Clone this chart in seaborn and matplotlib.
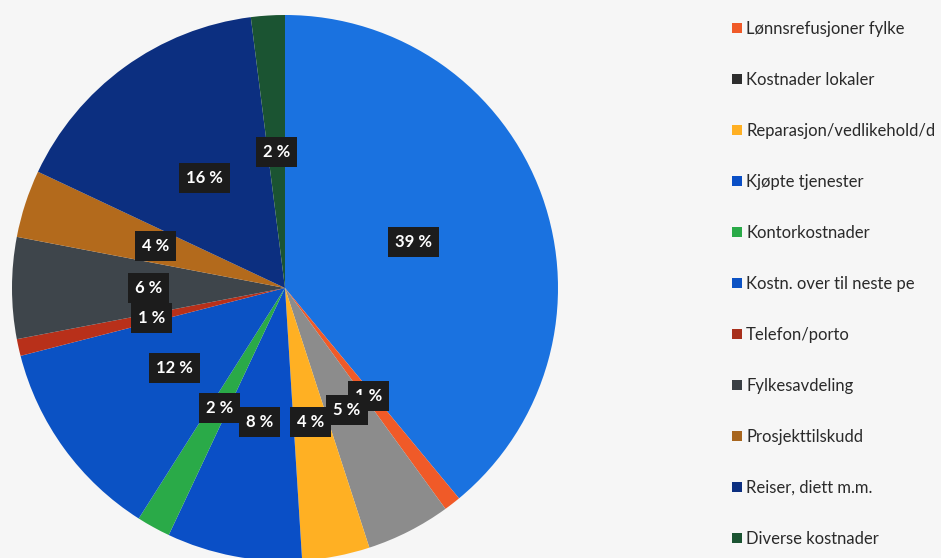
import matplotlib
matplotlib.use("Agg")
import matplotlib.pyplot as plt
import seaborn as sns
from matplotlib.patches import Patch

# ----------------------------------------------------------
# Data (first slice has no visible legend entry)
# ----------------------------------------------------------

categories = [
    "Lønnskostnader",
    "Lønnsrefusjoner fylke",
    "Kostnader lokaler",
    "Reparasjon/vedlikehold/d",
    "Kjøpte tjenester",
    "Kontorkostnader",
    "Kostn. over til neste pe",
    "Telefon/porto",
    "Fylkesavdeling",
    "Prosjekttilskudd",
    "Reiser, diett m.m.",
    "Diverse kostnader",
]
shares = [39, 1, 5, 4, 8, 2, 12, 1, 6, 4, 16, 2]
colors = [
    "#1a72e0", "#f05a28", "#8c8c8c", "#ffb023", "#0a4fc6", "#2aaa48",
    "#0b52c4", "#b8301a", "#3e454b", "#b36a1c", "#0c2f80", "#1b5432",
]
# legend swatches as they appear on the scan
legend_colors = [
    "#f05a28", "#2e2e2e", "#ffb023", "#0a4fc6", "#2aaa48",
    "#0b52c4", "#a8301c", "#3a3f44", "#a8661e", "#0c2f80", "#1b5432",
]

sns.set_style("white")
plt.rcParams["font.family"] = ["Lato", "DejaVu Sans"]

fig = plt.figure(figsize=(9.41, 5.58), dpi=100)
fig.patch.set_facecolor("#f6f6f6")

ax = fig.add_axes([12 / 941, -3 / 558, 546 / 941, 546 / 558])
wedges, texts, autotexts = ax.pie(
    shares,
    colors=colors,
    startangle=90,
    counterclock=False,
    autopct=lambda p: f"{p:.0f} %",
    pctdistance=0.5,
    radius=1,
    wedgeprops=dict(linewidth=0),
    textprops=dict(color="white", fontsize=12, fontweight="bold"),
)
for t in autotexts:
    t.set_bbox(dict(boxstyle="square,pad=0.42", facecolor="#1c1c1c", edgecolor="none"))
ax.set_xlim(-1, 1)
ax.set_ylim(-1, 1)
ax.set_aspect("equal")
ax.axis("off")

# ----------------------------------------------------------
# Legend (without the first slice)
# ----------------------------------------------------------

handles = [Patch(facecolor=c, edgecolor="none") for c in legend_colors]
leg = fig.legend(
    handles,
    categories[1:],
    loc="upper left",
    bbox_to_anchor=(717 / 941, 1 - 6 / 558),
    frameon=False,
    fontsize=12,
    labelspacing=2.1,
    handlelength=0.6,
    handleheight=0.6,
    handletextpad=0.25,
    labelcolor="#2a2a2a",
)

fig.savefig("out.png", dpi=100, facecolor=fig.get_facecolor())
